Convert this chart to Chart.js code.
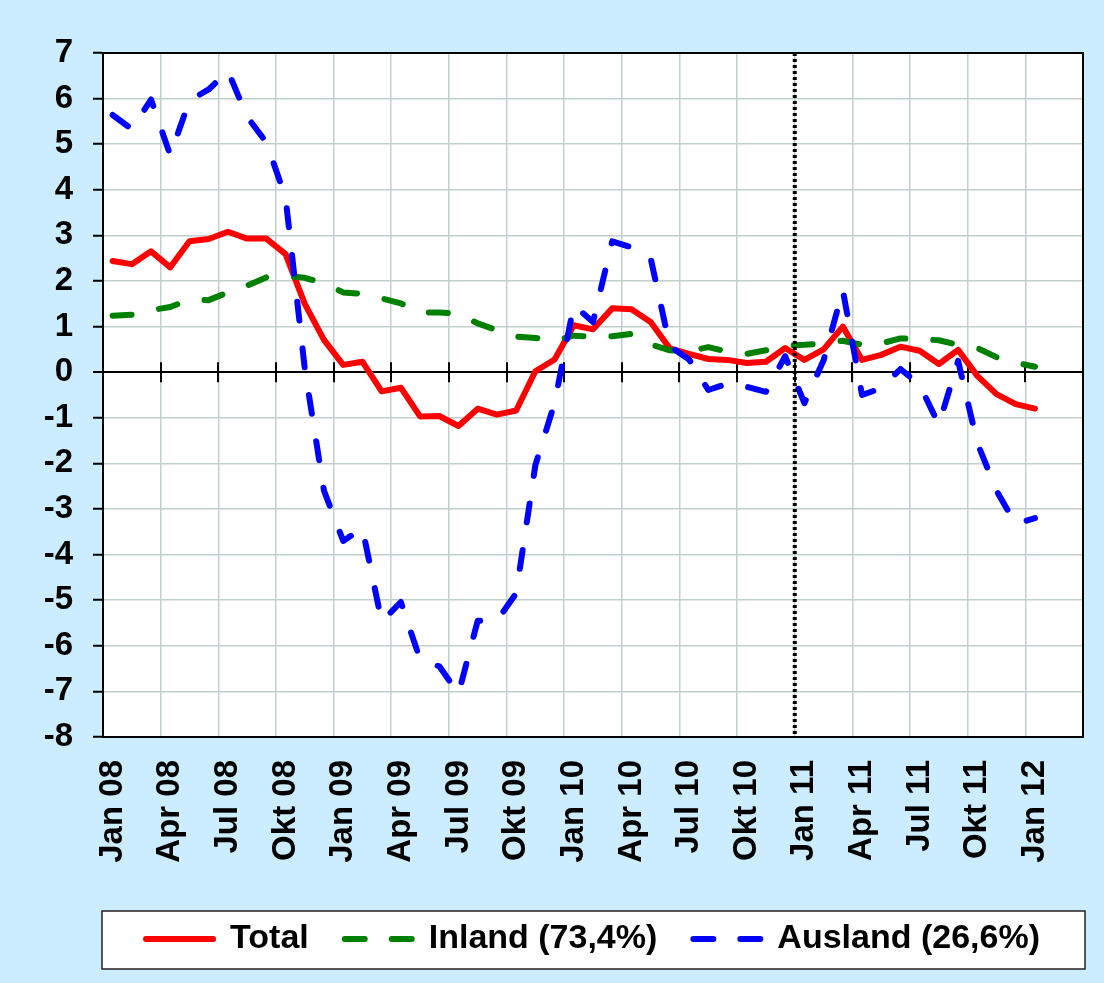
<!DOCTYPE html>
<html>
<head>
<meta charset="utf-8">
<script src="https://cdn.jsdelivr.net/npm/chart.js@4.4.1/dist/chart.umd.min.js"></script>
<style>
  html, body { margin: 0; padding: 0; background: #ccecff; }
  canvas { display: block; }
</style>
</head>
<body>
<canvas id="chart" width="1104" height="983"></canvas>
<script>
// ── Data ───────────────────────────────────────────
const monthNames = ['Jan', 'Feb', 'Mär', 'Apr', 'Mai', 'Jun', 'Jul', 'Aug', 'Sep', 'Okt', 'Nov', 'Dez'];
const years = ['08', '09', '10', '11', '12'];
const categoryCount = 51;          // Jan 08 .. Mär 12
const markerBoundary = 36;         // dotted line between Dez 10 and Jan 11

const total = [
    2.44, 2.37, 2.65, 2.30, 2.87, 2.92, 3.08, 2.93, 2.93, 2.59, 1.50, 0.71,
    0.16, 0.23, -0.42, -0.34, -0.97, -0.96, -1.18, -0.80, -0.93, -0.84, 0.02, 0.28,
    1.03, 0.94, 1.40, 1.38, 1.10, 0.52, 0.40, 0.29, 0.27, 0.20, 0.23, 0.53,
    0.27, 0.50, 1.00, 0.27, 0.38, 0.56, 0.47, 0.18, 0.49, -0.08, -0.48, -0.70,
    -0.80
];
const inland = [
    1.24, 1.26, 1.36, 1.43, 1.59, 1.58, 1.75, 1.90, 2.08, 2.11, 2.07, 1.95,
    1.75, 1.72, 1.62, 1.51, 1.31, 1.31, 1.28, 1.07, 0.92, 0.78, 0.75, 0.69,
    0.80, 0.78, 0.79, 0.84, 0.61, 0.48, 0.46, 0.55, 0.45, 0.40, 0.48, 0.58,
    0.60, 0.63, 0.69, 0.60, 0.63, 0.74, 0.73, 0.70, 0.60, 0.53, 0.33, 0.21,
    0.12
];
const ausland = [
    5.64, 5.33, 5.98, 4.76, 5.96, 6.20, 6.61, 5.60, 5.04, 3.83, 0.08, -2.60,
    -3.70, -3.42, -5.47, -5.04, -6.30, -6.45, -7.05, -5.45, -5.45, -4.85, -2.04, -0.68,
    1.47, 1.10, 2.87, 2.74, 2.50, 0.57, 0.28, -0.39, -0.25, -0.32, -0.43, 0.35,
    -0.68, 0.26, 1.80, -0.50, -0.35, 0.07, -0.28, -1.15, 0.25, -1.55, -2.60, -3.33,
    -3.20
];

const labels = [];
years.forEach(y => monthNames.forEach(m => labels.push(m + ' ' + y)));
labels.length = categoryCount;

// ── Style ──────────────────────────────────────────
const FONT = "'Liberation Sans', Arial, sans-serif";
const GRID = '#c3cfcf';
const DASH = [19, 28];
const LEGEND_DASH = [20, 27];

// ── Decorations: background, frame, legend box, zero ticks, marker ──
const decorations = {
    id: 'decorations',
    beforeLayout(chart) {
        const legend = chart.legend;
        if (legend && !legend._fixedFit) {
            const fit = legend.fit;
            legend.fit = function () { fit.call(this); this.height = 83; };
            legend._fixedFit = true;
        }
    },
    beforeDraw(chart) {
        const { ctx, chartArea: a, legend } = chart;
        ctx.save();
        ctx.fillStyle = '#ccecff';
        ctx.fillRect(0, 0, chart.width, chart.height);
        ctx.fillStyle = '#ffffff';
        ctx.fillRect(a.left, a.top, a.right - a.left, a.bottom - a.top);
        const top = legend.top + 25;
        const bottom = legend.top + 83;
        ctx.fillRect(a.left - 1, top, a.right - a.left + 3, bottom - top);
        ctx.strokeStyle = '#222';
        ctx.lineWidth = 1.5;
        ctx.strokeRect(a.left - 1, top, a.right - a.left + 3, bottom - top);
        ctx.restore();
    },
    beforeDatasetsDraw(chart) {
        const { ctx, scales: { x, y } } = chart;
        const half = (x.getPixelForValue(1) - x.getPixelForValue(0)) / 2;
        const y0 = y.getPixelForValue(0);
        ctx.save();
        ctx.strokeStyle = '#000';
        ctx.lineWidth = 2;
        ctx.beginPath();
        for (let k = 3; k < categoryCount; k += 3) {
            const px = Math.round(x.getPixelForValue(k) - half);
            ctx.moveTo(px, y0 - 10);
            ctx.lineTo(px, y0 + 10);
        }
        ctx.stroke();
        ctx.restore();
    },
    afterDatasetsDraw(chart) {
        const { ctx, chartArea: a, scales: { x } } = chart;
        const half = (x.getPixelForValue(1) - x.getPixelForValue(0)) / 2;
        const px = x.getPixelForValue(markerBoundary) - half;
        ctx.save();
        ctx.strokeStyle = '#000';
        ctx.lineWidth = 4;
        ctx.setLineDash([3, 3]);
        ctx.beginPath();
        ctx.moveTo(px, a.top);
        ctx.lineTo(px, a.bottom);
        ctx.stroke();
        ctx.setLineDash([]);
        ctx.lineWidth = 2;
        ctx.strokeRect(a.left, a.top, a.right - a.left, a.bottom - a.top);
        ctx.restore();
    }
};

function series(label, data, color, dash, order) {
    return {
        label,
        data,
        borderColor: color,
        backgroundColor: color,
        borderWidth: 6,
        borderDash: dash,
        borderCapStyle: 'round',
        borderJoinStyle: 'round',
        pointRadius: 0,
        tension: 0,
        fill: false,
        order,
    };
}

new Chart(document.getElementById('chart'), {
    type: 'line',
    data: {
        labels,
        datasets: [
            series('Total', total, '#ff0000', [], 3),
            series('Inland (73,4%)', inland, '#008000', DASH, 2),
            series('Ausland (26,6%)', ausland, '#0000ff', DASH, 1),
        ]
    },
    options: {
        responsive: false,
        animation: false,
        devicePixelRatio: 1,
        layout: { padding: { top: 53, right: 21, bottom: 14, left: 0 } },
        plugins: {
            tooltip: { enabled: false },
            legend: {
                position: 'bottom',
                fullSize: false,
                labels: {
                    usePointStyle: true,
                    pointStyle: 'line',
                    pointStyleWidth: 67,
                    padding: 36,
                    color: '#000',
                    font: { family: FONT, size: 34, weight: 'bold' },
                    sort: (a, b) => a.datasetIndex - b.datasetIndex,
                    generateLabels: chart =>
                        Chart.defaults.plugins.legend.labels.generateLabels(chart).map(item => {
                            const ds = chart.data.datasets[item.datasetIndex];
                            return Object.assign(item, {
                                lineWidth: 6,
                                lineCap: 'round',
                                lineDash: ds.borderDash.length ? LEGEND_DASH : [],
                                strokeStyle: ds.borderColor,
                            });
                        }),
                }
            }
        },
        scales: {
            x: {
                type: 'category',
                offset: true,
                afterFit: s => { s.height = 149; s.paddingLeft = 0; s.paddingRight = 0; },
                grid: {
                    offset: true,
                    drawTicks: false,
                    color: c => (c.index % 3 === 0 ? GRID : 'rgba(0,0,0,0)'),
                    lineWidth: 1.5,
                },
                border: { display: false },
                ticks: {
                    autoSkip: false,
                    minRotation: 90,
                    maxRotation: 90,
                    padding: 23,
                    color: '#000',
                    font: { family: FONT, size: 33, weight: 'bold' },
                    callback: function (value, index) {
                        return index % 3 === 0 ? this.getLabelForValue(value) : '';
                    }
                }
            },
            y: {
                min: -8,
                max: 7,
                afterFit: s => { s.width = 103; },
                grid: {
                    color: c => (c.tick && c.tick.value === 0 ? '#000' : GRID),
                    lineWidth: c => (c.tick && c.tick.value === 0 ? 2 : 1.5),
                    tickColor: '#000',
                    tickLength: 10,
                    tickWidth: 2,
                },
                border: { color: '#000', width: 2 },
                ticks: {
                    stepSize: 1,
                    padding: 20,
                    color: '#000',
                    font: { family: FONT, size: 33, weight: 'bold' },
                }
            }
        }
    },
    plugins: [decorations]
});
</script>
</body>
</html>
